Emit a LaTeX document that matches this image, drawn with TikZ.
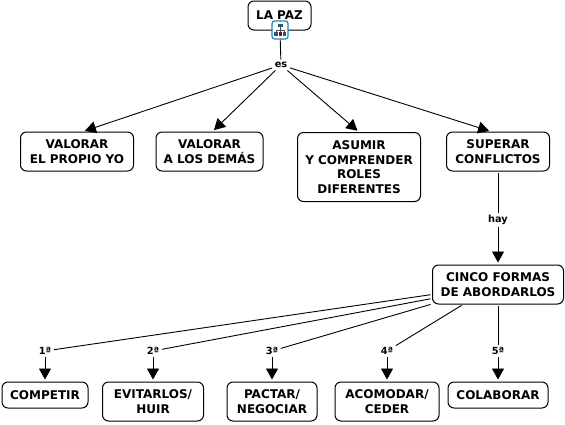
\documentclass[tikz,border=0pt]{standalone}
\usepackage{fontspec}
\setmainfont{DejaVu Sans}
\usetikzlibrary{arrows.meta}
\definecolor{iconblue}{HTML}{2F7FB5}
\tikzset{
    concept/.style={draw, line width=1pt, rounded corners=6pt, align=center, inner sep=0pt, font=\bfseries\fontsize{12}{14.6}\selectfont},
    linkword/.style={inner sep=2.5pt, font=\bfseries\fontsize{9.8}{11}\selectfont},
    plainlink/.style={draw, line width=0.9pt, shorten <=1.5pt},
    tiplink/.style={draw, line width=0.9pt, shorten >=2pt, -{Triangle[length=11pt,width=12pt]}}
}
\begin{document}
\begin{tikzpicture}[x=1pt, y=-1pt]
            \useasboundingbox (0,0) rectangle (565,424);
            % concepts
            \node[concept, minimum width=63pt, minimum height=29pt] (paz) at (279.5,15.5) {LA PAZ};
            \node[concept, minimum width=113pt, minimum height=39pt] (propio) at (77,151.5) {VALORAR\\EL PROPIO YO};
            \node[concept, minimum width=107pt, minimum height=39pt] (demas) at (209.5,151.5) {VALORAR\\A LOS DEMÁS};
            \node[concept, minimum width=123pt, minimum height=69pt] (roles) at (359,167) {ASUMIR\\Y COMPRENDER\\ROLES\\DIFERENTES};
            \node[concept, minimum width=103pt, minimum height=39pt] (conflictos) at (498,151.5) {SUPERAR\\CONFLICTOS};
            \node[concept, minimum width=131pt, minimum height=39pt] (formas) at (498,284.5) {CINCO FORMAS\\DE ABORDARLOS};
            \node[concept, minimum width=86pt, minimum height=26pt] (competir) at (45,395) {COMPETIR};
            \node[concept, minimum width=101pt, minimum height=39pt] (evitar) at (153,401.5) {EVITARLOS/\\HUIR};
            \node[concept, minimum width=90pt, minimum height=39pt] (pactar) at (272,401.5) {PACTAR/\\NEGOCIAR};
            \node[concept, minimum width=104pt, minimum height=39pt] (acomodar) at (387,401.5) {ACOMODAR/\\CEDER};
            \node[concept, minimum width=100pt, minimum height=26pt] (colaborar) at (498,395) {COLABORAR};
            % linking words
            \node[linkword] (es) at (281,65) {es};
            \node[linkword] (hay) at (498,220) {hay};
            \node[linkword] (a) at (45,351) {1ª};
            \node[linkword] (b) at (153,351) {2ª};
            \node[linkword] (c) at (272,351) {3ª};
            \node[linkword] (d) at (387,351) {4ª};
            \node[linkword] (e) at (498,351) {5ª};
            % connectors
            \draw[plainlink] (paz) -- (es);
            \draw[tiplink] (es) -- ([xshift=6pt]propio.north);
            \draw[tiplink] (es) -- ([xshift=3pt]demas.north);
            \draw[tiplink] (es) -- (roles.north);
            \draw[tiplink] (es) -- ([xshift=-7pt]conflictos.north);
            \draw[plainlink] (conflictos) -- (hay);
            \draw[tiplink] (hay) -- (formas);
            \draw[plainlink] ([yshift=-10pt]formas.west) -- (a);
            \draw[plainlink] ([yshift=-14pt]formas.west) -- (b);
            \draw[plainlink] ([yshift=-19.5pt]formas.west) -- (c);
            \draw[plainlink] ([xshift=-35pt]formas.south) -- (d);
            \draw[plainlink] (formas) -- (e);
            \draw[tiplink] (a) -- (competir);
            \draw[tiplink] (b) -- (evitar);
            \draw[tiplink] (c) -- (pactar);
            \draw[tiplink] (d) -- (acomodar);
            \draw[tiplink] (e) -- (colaborar);
            % hierarchy icon on the top concept
            \begin{scope}[shift={(280,30)}]
                \draw[iconblue, fill=white, line width=1.2pt, rounded corners=2.5pt] (-8,-9) rectangle (8,9);
                \draw[black!70, line width=0.7pt] (0,-3) -- (0,3) (-4,0) -- (4,0) (-4,0) -- (-4,3) (4,0) -- (4,3);
                \fill[iconblue!70!black] (-2.5,-6.5) rectangle (2.5,-3);
                \fill[iconblue!70!black] (-6,2) rectangle (-2.5,6);
                \fill[red!60!black] (-1.5,2) rectangle (1.5,6);
                \fill[iconblue!70!black] (2.5,2) rectangle (6,6);
            \end{scope}
        \end{tikzpicture}
\end{document}
